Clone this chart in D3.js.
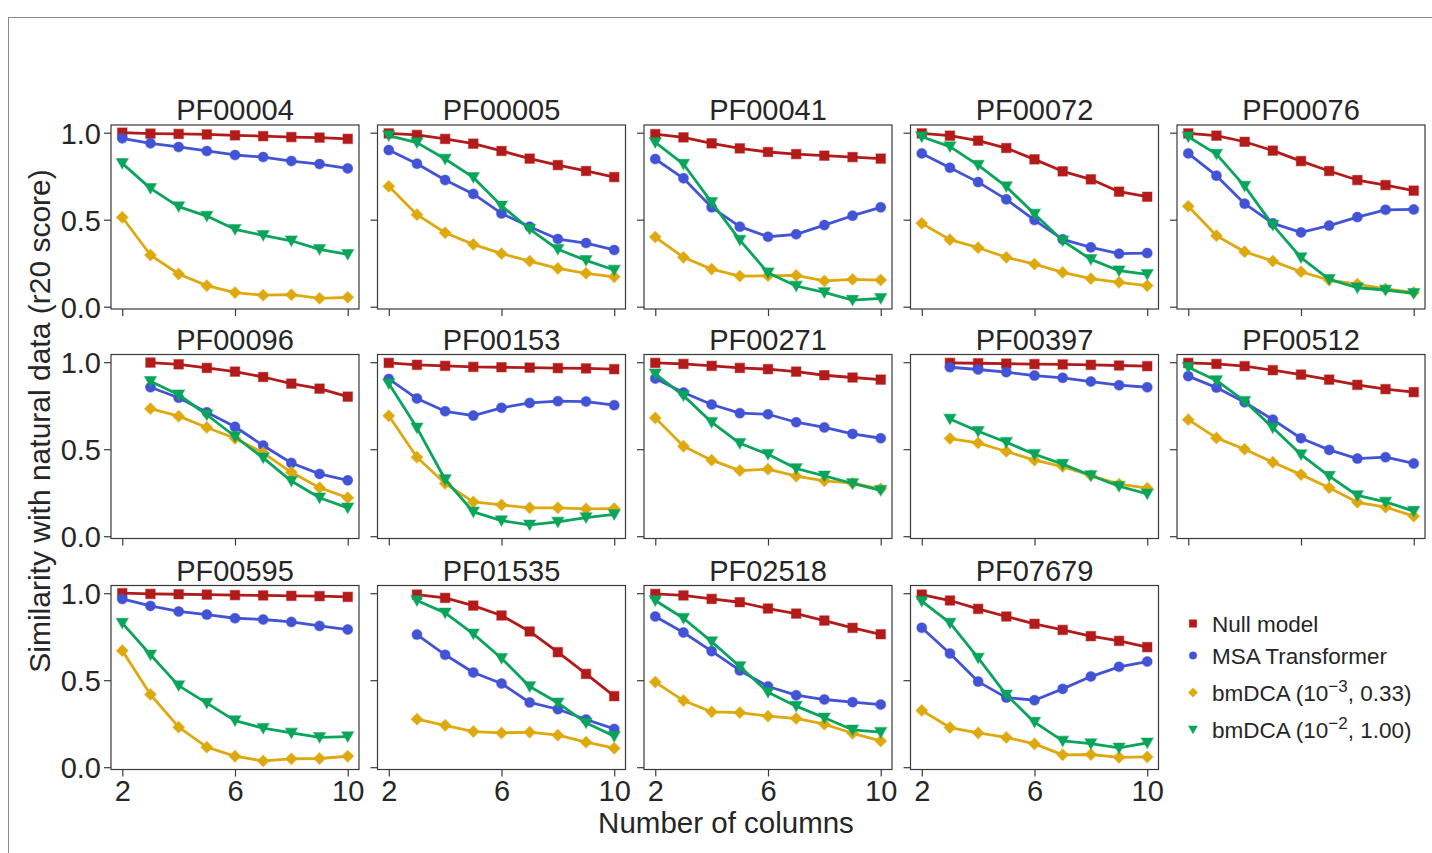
<!DOCTYPE html>
<html>
<head>
<meta charset="utf-8">
<script src="https://cdn.jsdelivr.net/npm/d3@7"></script>
<style>
  html, body { margin: 0; padding: 0; background: #fff; }
  svg { display: block; font-family: "Liberation Sans", Arial, sans-serif; }
</style>
</head>
<body>
<svg id="chart" width="1432" height="853"></svg>
<script>
// Protein families, one panel each (row-major, 5 per row)
const families = ["PF00004", "PF00005", "PF00041", "PF00072", "PF00076",
                  "PF00096", "PF00153", "PF00271", "PF00397", "PF00512",
                  "PF00595", "PF01535", "PF02518", "PF07679"];

// Number of columns on the x axis
const columns = [2, 3, 4, 5, 6, 7, 8, 9, 10];
const xTicks = [2, 6, 10];
const yTicks = [0.0, 0.5, 1.0];

// r20 scores, one row per family, one entry per column count (null = not computed)
const nullModel = [
  [1.00, 0.995, 0.993, 0.990, 0.985, 0.980, 0.975, 0.972, 0.965],
  [0.996, 0.987, 0.964, 0.937, 0.895, 0.851, 0.814, 0.780, 0.745],
  [0.992, 0.973, 0.939, 0.910, 0.889, 0.877, 0.868, 0.860, 0.851],
  [0.996, 0.983, 0.954, 0.912, 0.847, 0.778, 0.732, 0.661, 0.632],
  [0.996, 0.983, 0.948, 0.897, 0.837, 0.780, 0.728, 0.699, 0.667],
  [null, 0.998, 0.988, 0.967, 0.946, 0.915, 0.877, 0.848, 0.802],
  [0.996, 0.985, 0.979, 0.973, 0.971, 0.969, 0.966, 0.964, 0.960],
  [0.996, 0.990, 0.979, 0.967, 0.960, 0.946, 0.925, 0.912, 0.900],
  [null, 0.996, 0.994, 0.992, 0.989, 0.987, 0.985, 0.981, 0.977],
  [0.996, 0.990, 0.977, 0.954, 0.929, 0.900, 0.870, 0.845, 0.828],
  [1.00, 0.996, 0.994, 0.992, 0.989, 0.987, 0.985, 0.983, 0.979],
  [null, 0.992, 0.973, 0.929, 0.872, 0.780, 0.661, 0.536, 0.408],
  [0.996, 0.987, 0.967, 0.948, 0.912, 0.883, 0.843, 0.801, 0.764],
  [0.992, 0.958, 0.910, 0.866, 0.824, 0.789, 0.753, 0.726, 0.690]
];

const msaTransformer = [
  [0.968, 0.939, 0.918, 0.895, 0.872, 0.860, 0.837, 0.820, 0.795],
  [0.900, 0.822, 0.728, 0.648, 0.536, 0.460, 0.389, 0.366, 0.326],
  [0.849, 0.738, 0.571, 0.460, 0.402, 0.416, 0.469, 0.523, 0.571],
  [0.881, 0.799, 0.716, 0.617, 0.498, 0.387, 0.341, 0.305, 0.308],
  [0.881, 0.753, 0.592, 0.479, 0.427, 0.466, 0.515, 0.557, 0.559],
  [null, 0.856, 0.796, 0.712, 0.629, 0.521, 0.421, 0.358, 0.321],
  [0.904, 0.791, 0.718, 0.693, 0.738, 0.766, 0.776, 0.774, 0.753],
  [0.906, 0.826, 0.757, 0.707, 0.701, 0.655, 0.625, 0.588, 0.563],
  [null, 0.971, 0.958, 0.943, 0.923, 0.910, 0.889, 0.868, 0.856],
  [0.920, 0.854, 0.770, 0.670, 0.563, 0.496, 0.446, 0.454, 0.418],
  [0.967, 0.927, 0.895, 0.877, 0.856, 0.849, 0.835, 0.812, 0.791],
  [null, 0.762, 0.646, 0.544, 0.481, 0.372, 0.333, 0.274, 0.220],
  [0.866, 0.774, 0.667, 0.556, 0.464, 0.414, 0.389, 0.374, 0.360],
  [0.801, 0.653, 0.492, 0.400, 0.385, 0.450, 0.521, 0.577, 0.607]
];

// bmDCA (10^-3, 0.33)
const bmdcaLow = [
  [0.514, 0.297, 0.188, 0.121, 0.081, 0.066, 0.069, 0.048, 0.054],
  [0.692, 0.529, 0.425, 0.358, 0.305, 0.262, 0.220, 0.192, 0.172],
  [0.400, 0.284, 0.216, 0.176, 0.178, 0.180, 0.148, 0.157, 0.153],
  [0.479, 0.385, 0.339, 0.284, 0.245, 0.197, 0.161, 0.140, 0.121],
  [0.577, 0.408, 0.316, 0.262, 0.201, 0.153, 0.130, 0.102, 0.082],
  [null, 0.733, 0.690, 0.625, 0.563, 0.479, 0.367, 0.279, 0.221],
  [0.692, 0.454, 0.303, 0.197, 0.180, 0.163, 0.163, 0.157, 0.159],
  [0.680, 0.517, 0.437, 0.377, 0.385, 0.345, 0.318, 0.305, 0.272],
  [null, 0.561, 0.536, 0.487, 0.437, 0.400, 0.349, 0.299, 0.276],
  [0.670, 0.565, 0.500, 0.425, 0.354, 0.278, 0.195, 0.167, 0.115],
  [0.670, 0.418, 0.230, 0.115, 0.063, 0.036, 0.048, 0.050, 0.063],
  [null, 0.276, 0.241, 0.205, 0.197, 0.201, 0.184, 0.144, 0.109],
  [0.489, 0.383, 0.318, 0.314, 0.293, 0.280, 0.247, 0.195, 0.151],
  [0.326, 0.228, 0.197, 0.171, 0.134, 0.071, 0.073, 0.057, 0.059]
];

// bmDCA (10^-2, 1.00)
const bmdcaHigh = [
  [0.824, 0.680, 0.575, 0.521, 0.445, 0.410, 0.379, 0.330, 0.301],
  [0.983, 0.943, 0.849, 0.743, 0.580, 0.446, 0.330, 0.266, 0.211],
  [0.944, 0.820, 0.600, 0.383, 0.195, 0.119, 0.082, 0.038, 0.048],
  [0.977, 0.920, 0.814, 0.690, 0.533, 0.379, 0.272, 0.207, 0.186],
  [0.977, 0.877, 0.693, 0.469, 0.282, 0.157, 0.109, 0.096, 0.077],
  [null, 0.890, 0.813, 0.698, 0.573, 0.450, 0.317, 0.221, 0.163],
  [0.877, 0.623, 0.326, 0.140, 0.090, 0.065, 0.082, 0.107, 0.125],
  [0.933, 0.808, 0.655, 0.534, 0.471, 0.389, 0.347, 0.303, 0.264],
  [null, 0.674, 0.603, 0.540, 0.471, 0.414, 0.349, 0.287, 0.243],
  [0.971, 0.895, 0.776, 0.623, 0.469, 0.345, 0.234, 0.197, 0.144],
  [0.828, 0.646, 0.469, 0.368, 0.268, 0.224, 0.197, 0.172, 0.176],
  [null, 0.958, 0.887, 0.766, 0.626, 0.464, 0.370, 0.255, 0.178],
  [0.958, 0.856, 0.722, 0.579, 0.431, 0.351, 0.284, 0.215, 0.201],
  [0.954, 0.829, 0.628, 0.416, 0.259, 0.151, 0.136, 0.111, 0.140]
];

// Series styling, in drawing order (later ones on top)
const series = [
  { key: "null", values: nullModel,      color: "#b31b1b", marker: "square" },
  { key: "msa",  values: msaTransformer, color: "#4353d6", marker: "circle" },
  { key: "low",  values: bmdcaLow,       color: "#dea90e", marker: "diamond" },
  { key: "high", values: bmdcaHigh,      color: "#08a55a", marker: "triangleDown" }
];

// Marker shapes centred on the origin
function markerPath(kind, s) {
  const p = d3.path();
  if (kind === "square") {
    p.rect(-s / 2, -s / 2, s, s);
  } else if (kind === "circle") {
    p.arc(0, 0, s / 2, 0, 2 * Math.PI);
  } else if (kind === "diamond") {
    const r = s * 0.62;
    p.moveTo(0, -r); p.lineTo(r, 0); p.lineTo(0, r); p.lineTo(-r, 0); p.closePath();
  } else {
    const w = s * 0.6;
    p.moveTo(-w, -w * 0.8); p.lineTo(w, -w * 0.8); p.lineTo(0, w * 0.95); p.closePath();
  }
  return p.toString();
}
const markerSize = { square: 9.5, circle: 10, diamond: 9.5, triangleDown: 10 };

const svg = d3.select("#chart");
const ink = "#262626";
const spine = "#3a3a3a";

// Outer figure border
svg.append("rect")
  .attr("x", 8.5).attr("y", 17.5)
  .attr("width", 1500).attr("height", 900)
  .attr("fill", "none").attr("stroke", "#8a8a8a").attr("stroke-width", 1);

// Panel grid geometry
const panelW = 248, panelH = 184;
const colLeft = [111, 377.5, 644, 910.5, 1177];
const rowTop = [125, 354.5, 585.5];

const x = d3.scaleLinear().domain([1.6, 10.4]).range([0, panelW]);
const y = d3.scaleLinear().domain([-0.0132, 1.0443]).range([panelH, 0]);

const fontSize = 29;

families.forEach((fam, i) => {
  const row = Math.floor(i / 5), col = i % 5;
  const g = svg.append("g")
    .attr("transform", `translate(${colLeft[col]},${rowTop[row]})`);

  // x axis (labels only on the bottom row)
  const showX = row === 2;
  const xAxis = d3.axisBottom(x).tickValues(xTicks).tickSize(7).tickPadding(4)
    .tickFormat(showX ? d3.format("d") : () => "");
  const gx = g.append("g").attr("transform", `translate(0,${panelH})`).call(xAxis);

  // y axis (labels only on the first column)
  const showY = col === 0;
  const yAxis = d3.axisLeft(y).tickValues(yTicks).tickSize(7).tickPadding(3)
    .tickFormat(showY ? d3.format(".1f") : () => "");
  const gy = g.append("g").call(yAxis);

  [gx, gy].forEach(ax => {
    ax.select(".domain").remove();
    ax.selectAll(".tick line").attr("stroke", spine).attr("stroke-width", 1.2);
    ax.selectAll(".tick text")
      .attr("fill", ink)
      .style("font-size", fontSize + "px")
      .style("font-family", "'Liberation Sans', Arial, sans-serif");
  });
  gy.selectAll(".tick text").attr("dy", "0.36em");
  gx.selectAll(".tick text").attr("dy", "0.72em");

  // Series lines and markers
  series.forEach(s => {
    const pts = columns.map((c, j) => ({ c, v: s.values[i][j] })).filter(d => d.v != null);
    const line = d3.line().x(d => x(d.c)).y(d => y(d.v));
    g.append("path")
      .datum(pts)
      .attr("d", line)
      .attr("fill", "none")
      .attr("stroke", s.color)
      .attr("stroke-width", 2.8)
      .attr("stroke-linejoin", "round");
    g.append("g").selectAll("path")
      .data(pts)
      .join("path")
      .attr("transform", d => `translate(${x(d.c)},${y(d.v)})`)
      .attr("d", markerPath(s.marker, markerSize[s.marker]))
      .attr("fill", s.color)
      .attr("stroke", s.color)
      .attr("stroke-opacity", 0.45)
      .attr("stroke-width", 1.2);
  });

  // Panel frame
  g.append("rect")
    .attr("x", 0).attr("y", 0).attr("width", panelW).attr("height", panelH)
    .attr("fill", "none").attr("stroke", spine).attr("stroke-width", 1.2);

  // Panel title
  g.append("text")
    .attr("x", panelW / 2).attr("y", -5)
    .attr("text-anchor", "middle")
    .attr("fill", ink)
    .style("font-size", fontSize + "px")
    .text(fam);
});

// Axis titles
svg.append("text")
  .attr("transform", "translate(50,421) rotate(-90)")
  .attr("text-anchor", "middle")
  .attr("fill", ink)
  .style("font-size", "30px")
  .text("Similarity with natural data (r20 score)");

svg.append("text")
  .attr("x", 726).attr("y", 833)
  .attr("text-anchor", "middle")
  .attr("fill", ink)
  .style("font-size", "29.5px")
  .text("Number of columns");

// Legend
const legendItems = [
  { marker: "square",       color: series[0].color, text: ["Null model"] },
  { marker: "circle",       color: series[1].color, text: ["MSA Transformer"] },
  { marker: "diamond",      color: series[2].color, text: ["bmDCA (10", "\u22123", ", 0.33)"] },
  { marker: "triangleDown", color: series[3].color, text: ["bmDCA (10", "\u22122", ", 1.00)"] }
];
const legendY = [623.5, 655.5, 692.5, 729.5];
const legend = svg.append("g");
legendItems.forEach((it, k) => {
  const row = legend.append("g").attr("transform", `translate(1193,${legendY[k]})`);
  row.append("path")
    .attr("d", markerPath(it.marker, 7.5))
    .attr("fill", it.color)
    .attr("stroke", it.color).attr("stroke-opacity", 0.45).attr("stroke-width", 1);
  const t = row.append("text")
    .attr("x", 19).attr("y", 8)
    .attr("fill", ink)
    .style("font-size", "22.5px");
  t.append("tspan").text(it.text[0]);
  if (it.text.length > 1) {
    t.append("tspan").attr("dy", -9).style("font-size", "17px").text(it.text[1]);
    t.append("tspan").attr("dy", 9).text(it.text[2]);
  }
});
</script>
</body>
</html>
